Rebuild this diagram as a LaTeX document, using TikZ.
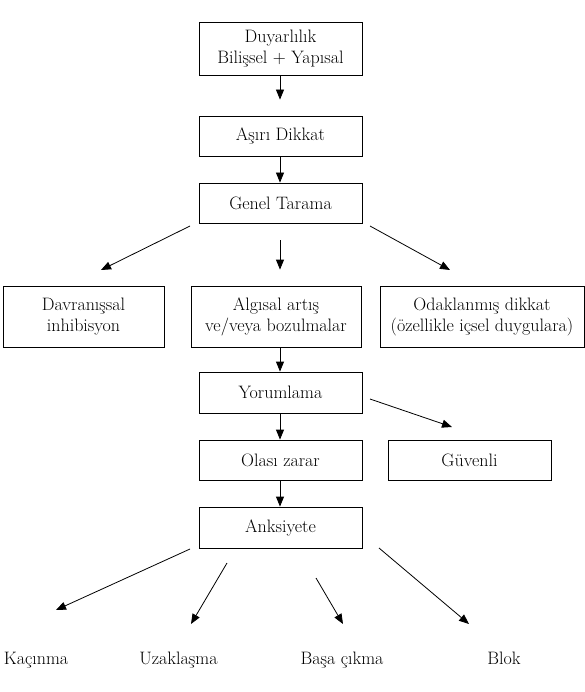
\documentclass[tikz,border=0pt]{standalone}
\usepackage{fontspec}
\usetikzlibrary{arrows.meta}

\tikzset{
  kutu/.style={draw, line width=0.8pt, align=center, inner sep=0pt,
    minimum width=163pt, minimum height=40pt, font=\rmfamily\fontsize{18}{21}\selectfont},
  etiket/.style={inner sep=0pt, anchor=base, font=\rmfamily\fontsize{18}{21}\selectfont},
  ok/.style={line width=0.8pt, -{Triangle[length=10pt,width=8pt]}}
}

\begin{document}
\begin{tikzpicture}[x=1pt, y=-1pt]
    \useasboundingbox (0,0) rectangle (585,692);
    % Main column
    \node[kutu, minimum height=53pt] (duyar) at (280.5,48.5) {Duyarlılık\\Bilişsel + Yapısal};
    \node[kutu] (asiri) at (280.5,136) {Aşırı Dikkat};
    \node[kutu] (genel) at (280.5,203) {Genel Tarama};
    % Middle row
    \node[kutu, minimum width=161pt, minimum height=61pt] (davran) at (83.5,316.5) {Davranışsal\\inhibisyon};
    \node[kutu, minimum width=170pt, minimum height=61pt] (algisal) at (276,316.5) {Algısal artış\\ve/veya bozulmalar};
    \node[kutu, minimum width=204pt, minimum height=61pt] (odak) at (482,316.5) {Odaklanmış dikkat\\(özellikle içsel duygulara)};
    % Lower column
    \node[kutu, minimum height=41pt] (yorum) at (280.5,392.5) {Yorumlama};
    \node[kutu] (olasi) at (280.5,460) {Olası zarar};
    \node[kutu] (guven) at (469.5,460) {Güvenli};
    \node[kutu, minimum height=41pt] (anksi) at (280.5,527.5) {Anksiyete};
    % Outcomes
    \node[etiket] (kacin) at (36,664) {Kaçınma};
    \node[etiket] (uzak) at (178.5,664) {Uzaklaşma};
    \node[etiket] (basa) at (342,664) {Başa çıkma};
    \node[etiket] (blok) at (504,664) {Blok};
    % Free arrow ends
    \coordinate (g1) at (190,226);  \coordinate (g1e) at (101,270);
    \coordinate (g3) at (370,226);  \coordinate (g3e) at (450,270);
    \coordinate (y1) at (370,399);  \coordinate (y1e) at (452,427);
    \coordinate (a1) at (190,549);  \coordinate (a1e) at (56,610);
    \coordinate (a2) at (227,563);  \coordinate (a2e) at (191,624);
    \coordinate (a3) at (316,578);  \coordinate (a3e) at (343,624);
    \coordinate (a4) at (379,548);  \coordinate (a4e) at (469,624);
    % Arrows
    \draw[ok, shorten >=16pt] (duyar.south -| 280,0) -- (asiri.north -| 280,0);
    \draw[ok] (asiri.south -| 280,0) -- (genel.north -| 280,0);
    \draw[ok, shorten <=17pt, shorten >=16pt] (genel.south -| 280,0) -- (algisal.north -| 280,0);
    \draw[ok] (g1) -- (g1e);
    \draw[ok] (g3) -- (g3e);
    \draw[ok] (algisal.south -| 280,0) -- (yorum.north -| 280,0);
    \draw[ok] (yorum.south -| 280,0) -- (olasi.north -| 280,0);
    \draw[ok] (y1) -- (y1e);
    \draw[ok] (olasi.south -| 280,0) -- (anksi.north -| 280,0);
    \foreach \i in {1,...,4} {
      \draw[ok] (a\i) -- (a\i e);
    }
\end{tikzpicture}
\end{document}
